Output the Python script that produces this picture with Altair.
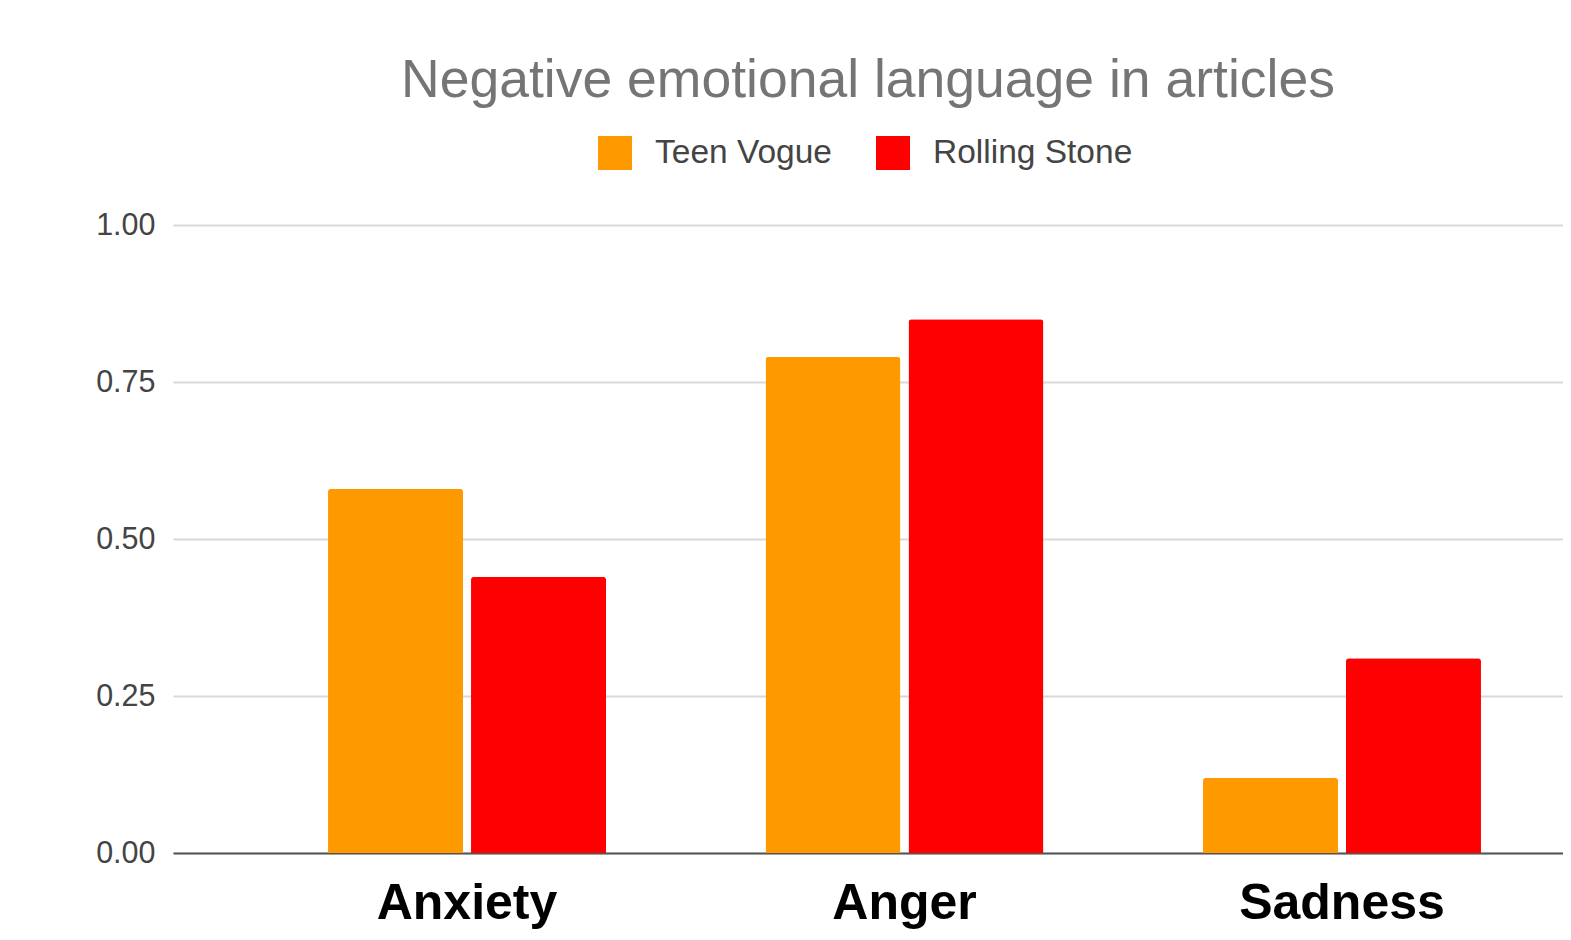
import altair as alt
import pandas as pd

categories = ["Anxiety", "Anger", "Sadness"]
series = ["Teen Vogue", "Rolling Stone"]
teen_vogue = [0.58, 0.79, 0.12]
rolling_stone = [0.44, 0.85, 0.31]
y_ticks = [0, 0.25, 0.5, 0.75, 1.0]
colors = ["#FF9900", "#FF0000"]

rows = []
for i, c in enumerate(categories):
    rows.append({"category": c, "series": series[0], "value": teen_vogue[i]})
    rows.append({"category": c, "series": series[1], "value": rolling_stone[i]})
df = pd.DataFrame(rows)

FONT = "Liberation Sans"

chart = alt.Chart(df).mark_bar(cornerRadiusTopLeft=3, cornerRadiusTopRight=3).encode(
    x=alt.X(
        "category:N", sort=categories, title=None,
        scale=alt.Scale(paddingInner=0.3646, paddingOuter=0.2709, align=0.654),
        axis=alt.Axis(labelFont=FONT, labelFontSize=50, labelFontWeight="bold",
                      labelColor="#000000", labelPadding=25, ticks=False, tickSize=0,
                      labelAngle=0, labelLimit=0, domain=True, domainColor="#555555",
                      domainWidth=2, grid=False),
    ),
    xOffset=alt.XOffset("series:N", sort=series,
                        scale=alt.Scale(paddingInner=0.056, paddingOuter=0)),
    y=alt.Y(
        "value:Q", title=None, scale=alt.Scale(domain=[0, 1], nice=False),
        axis=alt.Axis(values=y_ticks, format=".2f", labelFont=FONT, labelFontSize=30.5,
                      labelColor="#444444", labelPadding=18, ticks=False, tickSize=0,
                      domain=False, grid=True, gridColor="#d9d9d9", gridWidth=2),
    ),
    color=alt.Color(
        "series:N", sort=series,
        scale=alt.Scale(domain=series, range=colors),
        legend=alt.Legend(orient="none", legendX=425, legendY=-89, direction="horizontal",
                          title=None, symbolType="square", symbolSize=1156,
                          symbolStrokeWidth=0, symbolOpacity=1, labelFont=FONT,
                          labelFontSize=33.5, labelColor="#444444", labelOffset=23,
                          labelLimit=0, columnPadding=44, padding=0),
    ),
).properties(
    width=1390, height=628,
    title=alt.Title("Negative emotional language in articles", font=FONT, fontSize=53.5,
                    fontWeight="normal", color="#757575", anchor="middle", offset=28),
    autosize=alt.AutoSizeParams(type="none"),
    padding={"left": 165, "top": 217, "right": 0, "bottom": 78},
).configure_view(stroke=None)

chart.save("out.html", embed_options={"renderer": "svg", "actions": False})
